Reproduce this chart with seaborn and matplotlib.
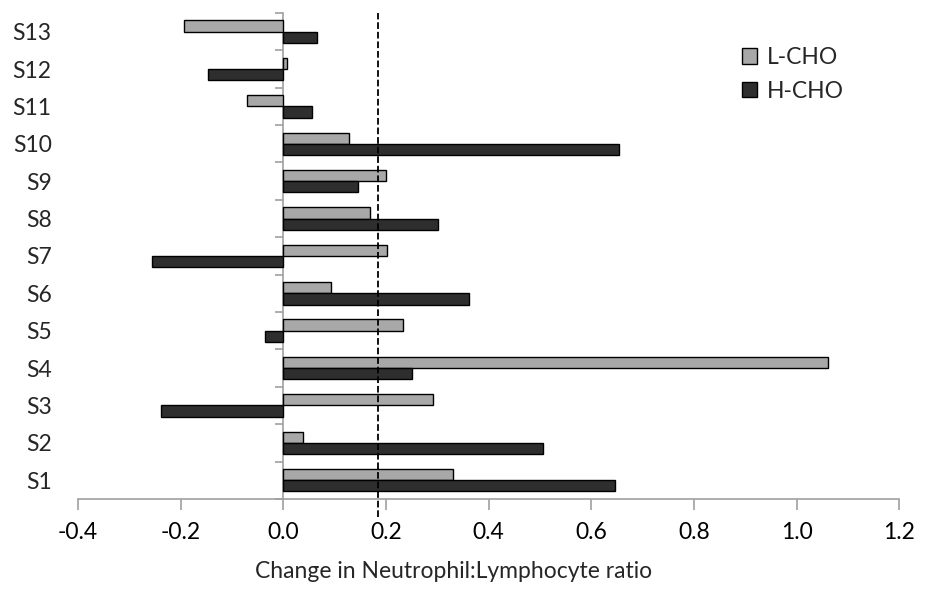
import pandas as pd
import seaborn as sns
from matplotlib import pyplot as plt

# data
subjects = ['S13', 'S12', 'S11', 'S10', 'S9', 'S8', 'S7', 'S6', 'S5', 'S4', 'S3', 'S2', 'S1']
l_cho = [-0.193, 0.007, -0.070, 0.127, 0.200, 0.168, 0.202, 0.093, 0.233, 1.062, 0.291, 0.038, 0.330]
h_cho = [0.066, -0.146, 0.055, 0.653, 0.145, 0.302, -0.256, 0.361, -0.036, 0.251, -0.238, 0.505, 0.646]
groups = ['L-CHO', 'H-CHO']
threshold = 0.185
xticks = [-0.4, -0.2, 0.0, 0.2, 0.4, 0.6, 0.8, 1.0, 1.2]

df = pd.DataFrame({
    'Subject': subjects * 2,
    'Group': [groups[0]] * len(subjects) + [groups[1]] * len(subjects),
    'Change': l_cho + h_cho,
})

sns.set_style('white')
plt.rcParams['font.family'] = ['Lato', 'DejaVu Sans']
fs = 16.5

fig = plt.figure(figsize=(9.29, 5.89), dpi=100)
ax = fig.add_axes([0.084, 0.153, 0.884, 0.825])

sns.barplot(data=df, x='Change', y='Subject', hue='Group', order=subjects,
            hue_order=groups, palette=['#a8a8a8', '#2e2e2e'], orient='h',
            width=0.6, edgecolor='black', linewidth=1.0, ax=ax)

ax.set_xlim(-0.4, 1.2)
ax.set_ylim(len(subjects) - 0.5, -0.5)
ax.set_xticks(xticks)
ax.set_xticklabels([f'{t:.1f}' for t in xticks])
ax.set_xlabel('Change in Neutrophil:Lymphocyte ratio', fontsize=fs)
ax.xaxis.set_label_coords(0.457, -0.128)
ax.set_ylabel('')

# spines: only bottom, gray
for side in ['top', 'right', 'left']:
    ax.spines[side].set_visible(False)
ax.spines['bottom'].set_color('#a0a0a0')
ax.spines['bottom'].set_linewidth(1.2)
ax.tick_params(axis='x', colors='#a0a0a0', length=8, width=1.2, labelsize=fs,
               labelcolor='black', direction='out', bottom=True, pad=9)
ax.tick_params(axis='y', length=0, labelsize=fs, pad=19)

# vertical axis line at zero with boundary ticks
sec = ax.secondary_yaxis(0.25)
sec.set_yticks([i - 0.5 for i in range(len(subjects) + 1)])
sec.set_yticklabels([])
sec.spines['left'].set_color('#a0a0a0')
sec.spines['left'].set_linewidth(1.2)
sec.tick_params(axis='y', colors='#a0a0a0', length=6, width=1.2, direction='out')

ax.axvline(threshold, ymin=-0.037, ymax=1.0, color='black', linestyle='--',
           linewidth=1.3, clip_on=False, zorder=5)

leg = ax.legend(loc='upper left', bbox_to_anchor=(0.809, 0.93), frameon=False,
                fontsize=fs, handlelength=0.65, handleheight=0.65,
                handletextpad=0.4, labelspacing=0.55, borderpad=0,
                borderaxespad=0)

plt.savefig('out.png', dpi=100)
